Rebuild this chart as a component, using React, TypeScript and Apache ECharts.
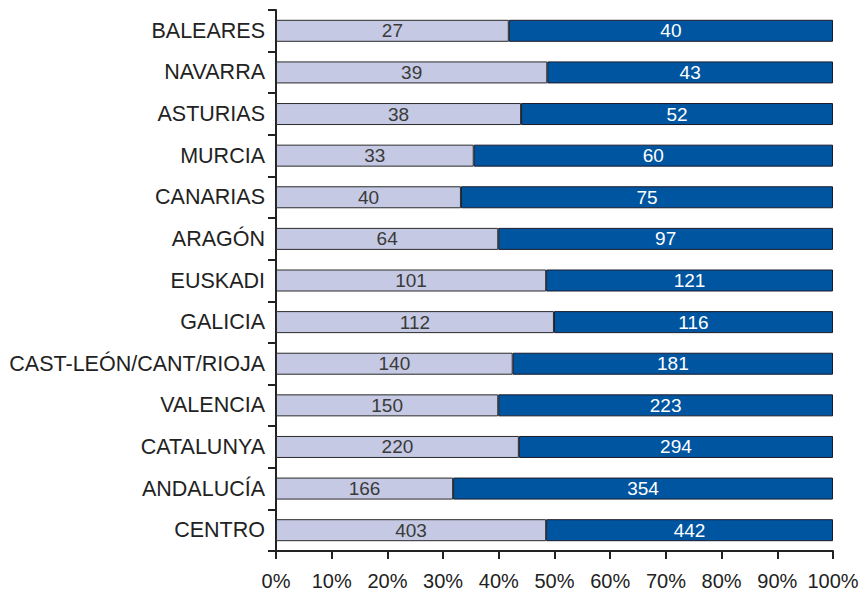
import React, { useEffect, useRef } from "react";
import * as echarts from "echarts";

const categories = [
  "BALEARES", "NAVARRA", "ASTURIAS", "MURCIA", "CANARIAS", "ARAGÓN", "EUSKADI",
  "GALICIA", "CAST-LEÓN/CANT/RIOJA", "VALENCIA", "CATALUNYA", "ANDALUCÍA", "CENTRO",
];
const lightCounts = [27, 39, 38, 33, 40, 64, 101, 112, 140, 150, 220, 166, 403];
const darkCounts = [40, 43, 52, 60, 75, 97, 121, 116, 181, 223, 294, 354, 442];
const lightShare = [41.8, 48.7, 44.0, 35.5, 33.2, 39.9, 48.5, 49.9, 42.5, 39.9, 43.6, 31.8, 48.5];
const darkShare = [58.2, 51.3, 56.0, 64.5, 66.8, 60.1, 51.5, 50.1, 57.5, 60.1, 56.4, 68.2, 51.5];
const xTicks = [0, 10, 20, 30, 40, 50, 60, 70, 80, 90, 100];

export default function App() {
  const ref = useRef<HTMLDivElement>(null);
  useEffect(() => {
    if (!ref.current) return;
    const chart = echarts.init(ref.current, null, { renderer: "svg" });
    const font = "'Liberation Sans', Arial, Helvetica, sans-serif";
    chart.setOption({
      animation: false,
      backgroundColor: "#ffffff",
      grid: { left: 276, right: 32, top: 10, bottom: 46, containLabel: false },
      xAxis: {
        type: "value",
        min: xTicks[0],
        max: xTicks[xTicks.length - 1],
        interval: 10,
        splitLine: { show: false },
        axisLine: { show: true, lineStyle: { color: "#222", width: 2 } },
        axisTick: { show: true, length: 8, lineStyle: { color: "#222", width: 2 } },
        axisLabel: {
          formatter: "{value}%",
          color: "#222",
          fontSize: 20,
          fontFamily: font,
          margin: 20,
        },
      },
      yAxis: {
        type: "category",
        data: categories,
        inverse: true,
        axisLine: { show: true, lineStyle: { color: "#222", width: 2 } },
        axisTick: { show: true, length: 8, lineStyle: { color: "#222", width: 2 } },
        axisLabel: { color: "#222", fontSize: 21.5, fontFamily: font, margin: 11 },
      },
      series: [
        {
          type: "bar",
          stack: "total",
          barWidth: 22,
          data: lightShare,
          itemStyle: { color: "#c5c9e3", borderColor: "#2a2a2a", borderWidth: 1 },
          label: {
            show: true,
            position: "inside",
            color: "#3a3a3a",
            fontSize: 19,
            fontFamily: font,
            formatter: (p: any) => String(lightCounts[p.dataIndex]),
          },
        },
        {
          type: "bar",
          stack: "total",
          barWidth: 22,
          data: darkShare,
          itemStyle: { color: "#0055a0", borderColor: "#1a1a2a", borderWidth: 1 },
          label: {
            show: true,
            position: "inside",
            color: "#ffffff",
            fontSize: 19,
            fontFamily: font,
            formatter: (p: any) => String(darkCounts[p.dataIndex]),
          },
        },
      ],
    });
    return () => chart.dispose();
  }, []);
  return <div ref={ref} style={{ width: 865, height: 597, position: "absolute", left: 0, top: 0 }} />;
}
